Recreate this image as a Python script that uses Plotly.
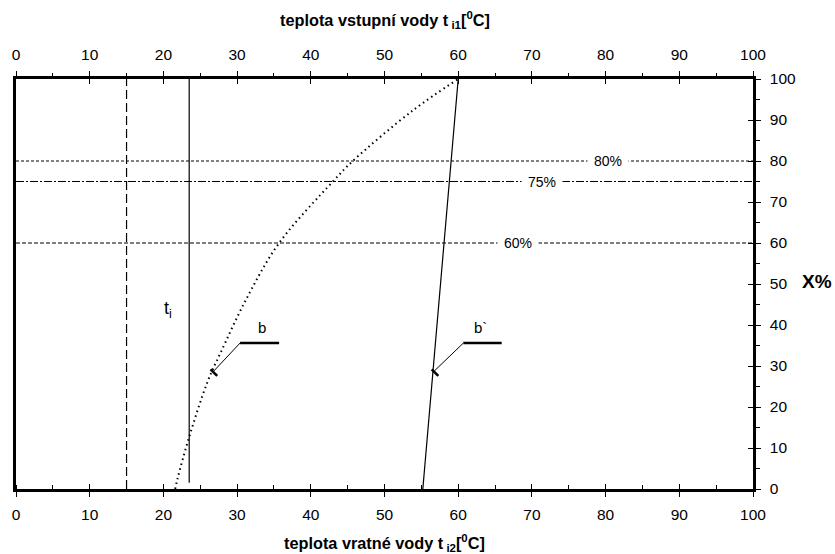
import plotly.graph_objects as go

# ---- data ----
tick_vals = [0, 10, 20, 30, 40, 50, 60, 70, 80, 90, 100]

curve_b_x = [21.6, 21.9, 23.5, 26.0, 27.7, 31.3, 35.7, 43.0, 45.7, 53.9, 60.0]
curve_b_y = [0.0, 2.4, 12.7, 26.2, 33.0, 46.5, 60.0, 75.0, 80.0, 92.4, 100.0]

line_bp_x = [55.2, 60.0]
line_bp_y = [0.0, 100.0]

line_ti_x = [23.5, 23.5]
line_ti_y = [1.5, 100.0]

line_15_x = [15.0, 15.0]
line_15_y = [0.0, 100.0]

pct_levels = [80, 75, 60]
pct_labels = ["80%", "75%", "60%"]
pct_label_x = [80.3, 71.4, 68.1]
pct_dash = ["3px,2px", "8px,2px,2px,2px", "4px,2px"]

leader_b_x = [26.7, 30.4]
leader_b_y = [28.5, 35.6]
shelf_b_x = [30.4, 35.7]
shelf_b_y = [35.6, 35.6]
foot_b_x = [26.4, 27.3]
foot_b_y = [29.2, 27.6]

leader_bp_x = [56.6, 60.7]
leader_bp_y = [28.5, 35.6]
shelf_bp_x = [60.7, 65.9]
shelf_bp_y = [35.6, 35.6]
foot_bp_x = [56.4, 57.3]
foot_bp_y = [29.2, 27.6]

FONT = "Liberation Sans, Arial, sans-serif"

fig = go.Figure()

def line(x, y, width=1, dash="solid", xa="x", ya="y", shape="linear"):
    fig.add_trace(go.Scatter(x=x, y=y, mode="lines", xaxis=xa, yaxis=ya,
                             line=dict(color="black", width=width, dash=dash, shape=shape),
                             showlegend=False, hoverinfo="skip"))

# horizontal percentage lines
for lvl, d in zip(pct_levels, pct_dash):
    line([0, 100], [lvl, lvl], width=1, dash=d)

line(line_15_x, line_15_y, width=1.2, dash="9px,4px")
line(line_ti_x, line_ti_y, width=1.2)
line(line_bp_x, line_bp_y, width=1.2)
line(curve_b_x, curve_b_y, width=2, dash="1.5px,3.5px", shape="spline")

line(leader_b_x, leader_b_y, width=1)
line(shelf_b_x, shelf_b_y, width=2.5)
line(foot_b_x, foot_b_y, width=2.5)
line(leader_bp_x, leader_bp_y, width=1)
line(shelf_bp_x, shelf_bp_y, width=2.5)
line(foot_bp_x, foot_bp_y, width=2.5)

# invisible traces so overlay axes get drawn
for xa, ya in [("x2", "y"), ("x3", "y"), ("x4", "y"), ("x", "y2"), ("x", "y3")]:
    fig.add_trace(go.Scatter(x=[0, 100], y=[0, 100], mode="lines", xaxis=xa, yaxis=ya,
                             line=dict(width=0, color="rgba(0,0,0,0)"),
                             showlegend=False, hoverinfo="skip"))

common = dict(range=[0, 100], showgrid=False, zeroline=False, tickcolor="black",
              tickwidth=1, tickfont=dict(family=FONT, size=15.5, color="black"),
              tickvals=tick_vals, automargin=False)
plain = dict(range=[0, 100], showgrid=False, zeroline=False, tickcolor="black",
             tickwidth=1, tickvals=tick_vals, showticklabels=False, showline=False,
             automargin=False)

fig.update_layout(
    width=835, height=554,
    margin=dict(l=16, r=82, t=79, b=65, autoexpand=False),
    plot_bgcolor="white", paper_bgcolor="white",
    font=dict(family=FONT, color="black"),
    xaxis=dict(**common, side="bottom", anchor="y", ticks="outside", ticklen=5,
               showline=True, linecolor="black", linewidth=2.5, ticklabelstandoff=5,
               minor=dict(dtick=5, ticks="inside", ticklen=4, tickcolor="black", tickwidth=1)),
    xaxis2=dict(**common, side="top", anchor="y", overlaying="x", ticks="outside", ticklen=5,
                showline=True, linecolor="black", linewidth=2.5, ticklabelstandoff=5,
                minor=dict(dtick=5, ticks="outside", ticklen=3, tickcolor="black", tickwidth=1)),
    xaxis3=dict(**plain, side="bottom", anchor="y", overlaying="x", ticks="inside", ticklen=5),
    xaxis4=dict(**plain, side="top", anchor="y", overlaying="x", ticks="inside", ticklen=5),
    yaxis=dict(range=[0, 100], side="left", anchor="x", showticklabels=False, ticks="",
               showgrid=False, zeroline=False, showline=True, linecolor="black", linewidth=2.5,
               automargin=False),
    yaxis2=dict(**common, side="right", anchor="x", overlaying="y", ticks="outside", ticklen=5,
                showline=True, linecolor="black", linewidth=2.5, ticklabelstandoff=6,
                minor=dict(dtick=5, ticks="outside", ticklen=4, tickcolor="black", tickwidth=1)),
    yaxis3=dict(**plain, side="right", anchor="x", overlaying="y", ticks="inside", ticklen=5),
)

# axis titles
fig.add_annotation(x=0.5, y=1.144, xref="paper", yref="paper", showarrow=False,
                   xanchor="center", yanchor="middle",
                   text="<b>teplota vstupní vody t<sub> i1</sub>[<sup>0</sup>C]</b>",
                   font=dict(family=FONT, size=16.3, color="black"))
fig.add_annotation(x=0.5, y=-0.1325, xref="paper", yref="paper", showarrow=False,
                   xanchor="center", yanchor="middle",
                   text="<b>teplota vratné vody t<sub> i2</sub>[<sup>0</sup>C]</b>",
                   font=dict(family=FONT, size=16.3, color="black"))

# percentage labels
for lvl, lab, lx in zip(pct_levels, pct_labels, pct_label_x):
    fig.add_annotation(x=lx, y=lvl, xref="x", yref="y", text=lab, showarrow=False,
                       font=dict(family=FONT, size=14, color="black"),
                       bgcolor="white", borderpad=6)

fig.add_annotation(x=20.6, y=43.7, xref="x", yref="y", text="t<sub>i</sub>", showarrow=False,
                   font=dict(family=FONT, size=18, color="black"))
fig.add_annotation(x=33.4, y=39.5, xref="x", yref="y", text="b", showarrow=False,
                   font=dict(family=FONT, size=15, color="black"))
fig.add_annotation(x=63.0, y=39.5, xref="x", yref="y", text="b`", showarrow=False,
                   font=dict(family=FONT, size=15, color="black"))
fig.add_annotation(x=1.0868, y=50.5, xref="paper", yref="y", text="<b>X%</b>", showarrow=False,
                   xanchor="center", font=dict(family=FONT, size=19, color="black"))

fig.write_html("out.html",
               config={"displayModeBar": False},
               post_script="document.body.style.margin='0px';"
                           "document.body.style.overflow='hidden';")
